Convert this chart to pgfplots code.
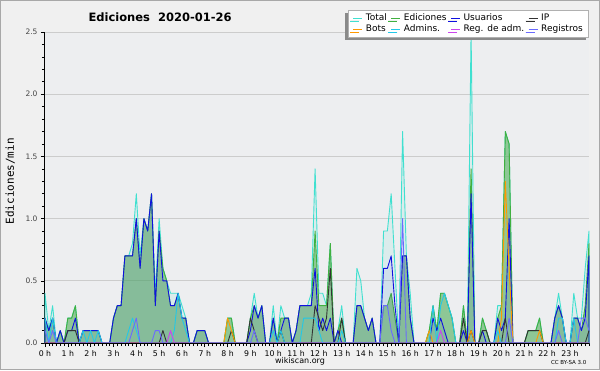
\documentclass[border=0pt]{standalone}
\usepackage{fontspec}
\setmainfont{DejaVu Sans}
\newfontfamily\monofont{DejaVu Sans Mono}
\usepackage{pgfplots}
\usepackage{pgfplotstable}
\pgfplotsset{compat=1.18}
\usetikzlibrary{shadows}
\definecolor{bgcol}{HTML}{F0F0F0}
\definecolor{bordercol}{HTML}{A8A8A8}
\definecolor{plotbg}{HTML}{EDEEF0}
\definecolor{gridcol}{HTML}{CCCCCC}
\definecolor{ticktext}{HTML}{444444}
\definecolor{cTotal}{HTML}{40E0D0}
\definecolor{cEd}{HTML}{40B040}
\definecolor{cEdFill}{RGB}{80,170,80}
\definecolor{cUs}{HTML}{1010E0}
\definecolor{cIP}{HTML}{333333}
\definecolor{cBots}{HTML}{FF9900}
\definecolor{cAdm}{HTML}{22C8E8}
\definecolor{cRA}{HTML}{CC44EE}
\definecolor{cReg}{HTML}{6A6AFF}
\definecolor{legborder}{HTML}{B0B0B0}
\definecolor{shadowcol}{HTML}{8A8A8A}

\pgfplotstableread{
i T E U P B A M R
0 0.4 0.2 0.2 0 0 0.2 0 0.1
1 0.1 0.1 0.1 0 0 0 0 0
2 0.3 0.2 0.2 0 0 0.2 0 0.1
3 0 0 0 0 0 0 0 0
4 0.1 0.1 0.1 0 0 0 0 0
5 0 0 0 0 0 0 0 0
6 0.2 0.2 0.1 0.1 0 0 0 0
7 0.2 0.2 0.1 0.1 0 0 0 0
8 0.3 0.3 0.2 0.1 0 0 0 0
9 0 0 0 0 0 0 0 0
10 0.1 0.1 0.1 0 0 0.1 0 0
11 0.1 0.1 0.1 0 0 0 0 0
12 0.1 0.1 0.1 0 0 0.1 0 0
13 0.1 0.1 0.1 0 0 0 0 0
14 0.1 0.1 0.1 0 0 0.1 0 0
15 0 0 0 0 0 0 0 0
16 0 0 0 0 0 0 0 0
17 0 0 0 0 0 0 0 0
18 0.2 0.2 0.2 0 0 0 0 0
19 0.3 0.3 0.3 0 0 0 0 0
20 0.3 0.3 0.3 0 0 0 0 0
21 0.7 0.7 0.7 0 0 0 0 0
22 0.7 0.7 0.7 0 0 0.1 0 0
23 0.8 0.7 0.7 0 0 0.2 0 0.1
24 1.2 1.0 1.0 0 0 0.1 0 0.2
25 0.7 0.6 0.6 0 0 0 0 0
26 1.0 1.0 1.0 0 0 0 0 0
27 0.9 0.9 0.9 0 0 0 0 0
28 1.2 1.2 1.2 0 0 0 0 0
29 0.4 0.3 0.3 0 0 0 0 0.1
30 1.0 0.9 0.9 0 0 0 0 0.1
31 0.6 0.6 0.5 0.1 0 0 0 0
32 0.5 0.5 0.5 0 0 0 0 0
33 0.4 0.3 0.3 0 0 0 0.1 0
34 0.4 0.3 0.3 0 0 0.1 0 0
35 0.4 0.4 0.4 0 0 0.4 0 0
36 0.3 0.2 0.2 0 0 0.2 0 0
37 0.2 0.2 0.2 0 0 0.1 0 0
38 0 0 0 0 0 0 0 0
39 0 0 0 0 0 0 0 0
40 0.1 0.1 0.1 0 0 0 0 0
41 0.1 0.1 0.1 0 0 0 0 0
42 0.1 0.1 0.1 0 0 0 0 0
43 0 0 0 0 0 0 0 0
44 0 0 0 0 0 0 0 0
45 0 0 0 0 0 0 0 0
46 0 0 0 0 0 0 0 0
47 0 0 0 0 0 0 0 0
48 0.2 0.2 0 0 0.2 0 0 0
49 0.2 0.2 0 0.1 0.1 0 0 0
50 0 0 0 0 0 0 0 0
51 0 0 0 0 0 0 0 0
52 0 0 0 0 0 0 0 0
53 0 0 0 0 0 0 0 0
54 0.2 0.2 0.1 0.2 0 0 0 0
55 0.4 0.3 0.3 0.1 0 0 0 0.1
56 0.2 0.2 0.2 0 0 0 0 0
57 0.3 0.3 0.3 0 0 0 0 0
58 0 0 0 0 0 0 0 0
59 0 0 0 0 0 0 0 0
60 0.3 0.2 0.2 0 0 0.1 0 0
61 0 0 0 0 0 0 0 0
62 0.3 0.2 0.1 0.1 0 0.1 0 0
63 0.2 0.2 0.2 0 0 0 0 0
64 0.2 0.2 0.2 0 0 0 0 0
65 0 0 0 0 0 0 0 0
66 0.1 0.1 0.1 0 0 0 0 0
67 0.3 0.3 0.3 0 0 0 0 0
68 0.3 0.3 0.3 0 0 0.2 0 0
69 0.3 0.3 0.3 0 0 0.2 0 0
70 0.4 0.3 0.3 0 0 0.2 0 0
71 1.4 0.9 0.6 0.3 0 0.2 0 0
72 0.4 0.3 0.1 0.2 0 0.1 0 0
73 0.4 0.3 0.2 0.1 0 0 0 0
74 0.3 0.3 0.1 0.2 0 0 0 0
75 0.8 0.8 0.2 0.6 0 0 0 0
76 0 0 0 0 0 0 0 0
77 0.1 0.1 0.1 0 0 0 0 0
78 0.3 0.2 0 0.2 0 0.1 0 0
79 0 0 0 0 0 0 0 0
80 0 0 0 0 0 0 0 0
81 0 0 0 0 0 0 0 0
82 0.6 0.3 0.3 0 0 0 0 0
83 0.5 0.3 0.3 0 0 0 0 0
84 0.2 0.2 0.2 0 0 0 0 0
85 0.1 0.1 0.1 0 0 0 0 0
86 0.2 0.2 0.2 0 0 0 0 0
87 0 0 0 0 0 0 0 0
88 0 0 0 0 0 0 0 0
89 0.9 0.3 0.6 0 0 0 0 0.3
90 0.9 0.3 0.6 0 0 0 0 0.3
91 1.2 0.4 0.7 0 0 0 0 0.1
92 0.6 0.2 0.3 0 0 0 0 0
93 0 0 0 0 0 0 0 0
94 1.7 0.7 0.7 0 0 0 0 1.0
95 0.7 0.7 0.7 0 0 0 0 0
96 0.4 0.2 0.2 0 0 0 0 0
97 0 0 0 0 0 0 0 0
98 0 0 0 0 0 0 0 0
99 0 0 0 0 0 0 0 0
100 0 0 0 0 0 0 0 0
101 0.1 0.1 0 0 0.1 0 0 0
102 0.3 0.3 0.2 0 0 0.3 0 0
103 0.1 0.1 0.1 0 0 0 0 0
104 0.4 0.4 0.2 0 0 0.3 0.1 0
105 0.4 0.4 0.1 0 0 0.4 0 0
106 0.3 0.3 0 0 0 0.3 0 0
107 0.2 0.2 0 0 0 0.2 0 0
108 0 0 0 0 0 0 0 0
109 0 0 0 0 0 0 0 0
110 0.3 0.3 0.1 0.2 0 0 0 0
111 0 0 0 0 0 0 0 0
112 2.5 1.4 1.2 0.1 0.1 0 0 0
113 0 0 0 0 0 0 0 0
114 0 0 0 0 0 0 0 0
115 0.2 0.2 0.1 0.1 0 0 0 0
116 0.1 0.1 0 0.1 0 0 0 0
117 0 0 0 0 0 0 0 0
118 0 0 0 0 0 0 0 0
119 0.3 0.2 0.2 0 0 0.1 0 0
120 0.3 0.3 0.1 0 0.2 0 0 0
121 1.7 1.7 0.2 0.2 1.3 0 0 0
122 1.6 1.6 1.0 0 0.6 0 0 0.2
123 0 0 0 0 0 0 0 0
124 0 0 0 0 0 0 0 0
125 0 0 0 0 0 0 0 0
126 0 0 0 0 0 0 0 0
127 0.1 0.1 0 0.1 0 0 0 0
128 0.1 0.1 0 0.1 0 0 0 0
129 0.1 0.1 0 0.1 0 0 0 0
130 0.2 0.2 0 0.1 0.1 0 0 0
131 0 0 0 0 0 0 0 0
132 0 0 0 0 0 0 0 0
133 0 0 0 0 0 0 0 0
134 0.2 0.2 0.2 0 0 0 0 0
135 0.4 0.3 0.3 0 0 0.2 0 0.1
136 0.2 0.2 0.2 0 0 0.2 0 0
137 0 0 0 0 0 0 0 0
138 0 0 0 0 0 0 0 0
139 0.4 0.2 0.2 0 0 0.2 0 0
140 0.2 0.2 0.2 0 0 0 0 0
141 0.2 0.1 0.1 0 0 0 0 0.2
142 0.6 0.3 0.2 0 0 0 0 0.2
143 0.9 0.8 0.7 0.1 0 0 0 0.1
}\data

\begin{document}
\begin{tikzpicture}
\path[use as bounding box] (0,0) rectangle (600pt,370pt);
\fill[bgcol] (0,0) rectangle (600pt,370pt);
\draw[bordercol, line width=1pt] (0.5pt,0.5pt) rectangle (599.5pt,369.5pt);
\begin{axis}[
  at={(45pt,27pt)}, anchor=south west,
  scale only axis, width=544pt, height=311pt,
  xmin=0, xmax=143, ymin=0, ymax=2.5,
  clip=false,
  axis background/.style={fill=plotbg},
  axis x line*=bottom, axis y line*=left,
  axis line style={-, black, line width=1pt},
  xtick={0,6,...,138},
  xticklabels={0 h,1 h,2 h,3 h,4 h,5 h,6 h,7 h,8 h,9 h,10 h,11 h,12 h,13 h,14 h,15 h,16 h,17 h,18 h,19 h,20 h,21 h,22 h,23 h},
  minor xtick={0,1,...,143},
  ytick={0,0.5,1,1.5,2,2.5},
  minor ytick={0.1,0.2,0.3,0.4,0.6,0.7,0.8,0.9,1.1,1.2,1.3,1.4,1.6,1.7,1.8,1.9,2.1,2.2,2.3,2.4},
  tick align=outside,
  major tick length=4pt, minor tick length=3pt,
  every tick/.append style={black, line width=0.6pt},
  ymajorgrids, major grid style={gridcol, line width=0.8pt},
  /pgf/number format/assume math mode=true,
  yticklabel style={font=\fontsize{7.5}{8}\selectfont, text=ticktext, /pgf/number format/.cd, fixed, fixed zerofill, precision=1},
  xticklabel style={font=\fontsize{7.8}{8}\selectfont},
  ylabel={Ediciones/min},
  ylabel style={font=\monofont\fontsize{11}{11}\selectfont, at={(axis description cs:-0.064,0.52)}, anchor=center},
  every axis plot/.append style={no marks, line width=0.9pt, line join=round},
  legend columns=4,
  legend cell align=left,
  legend image code/.code={\draw[#1, fill=none, line width=0.9pt] (0pt,0pt) -- (9pt,0pt);},
  legend style={at={(axis description cs:1.0,1.0707)}, anchor=north east,
    draw=legborder, fill=white, line width=0.6pt,
    font=\fontsize{9}{9}\selectfont, inner xsep=5pt, inner ysep=1.5pt, row sep=-1pt,
    nodes={inner xsep=1pt},
    /tikz/every odd column/.style={column sep=2pt},
    /tikz/every even column/.style={column sep=3pt},
    drop shadow={shadow xshift=-3pt, shadow yshift=-3pt, fill=shadowcol, opacity=1}},
]
\addplot[draw=cTotal, fill=cTotal, fill opacity=0.1] table[x=i,y=T]{\data} \closedcycle;
\addplot[draw=cEd, fill=cEdFill, fill opacity=0.55] table[x=i,y=E]{\data} \closedcycle;
\addplot[draw=cUs, fill=cUs, fill opacity=0.06] table[x=i,y=U]{\data} \closedcycle;
\addplot[draw=cIP] table[x=i,y=P]{\data};
\addplot[draw=cBots] table[x=i,y=B]{\data};
\addplot[draw=cAdm] table[x=i,y=A]{\data};
\addplot[draw=cRA] table[x=i,y=M]{\data};
\addplot[draw=cReg] table[x=i,y=R]{\data};
\legend{Total,Ediciones,Usuarios,IP,Bots,Admins.,Reg. de adm.,Registros}
\draw[black, line width=1pt] (rel axis cs:0,0) -- (rel axis cs:1,0);
\end{axis}
\node[anchor=west, font=\bfseries\fontsize{11.5}{12}\selectfont] at (85pt,353pt) {Ediciones\ \ 2020-01-26};
\node[font=\fontsize{8}{8}\selectfont] at (300pt,9pt) {wikiscan.org};
\node[anchor=east, font=\fontsize{5.5}{6}\selectfont] at (590pt,8pt) {CC BY-SA 3.0};
\end{tikzpicture}
\end{document}
